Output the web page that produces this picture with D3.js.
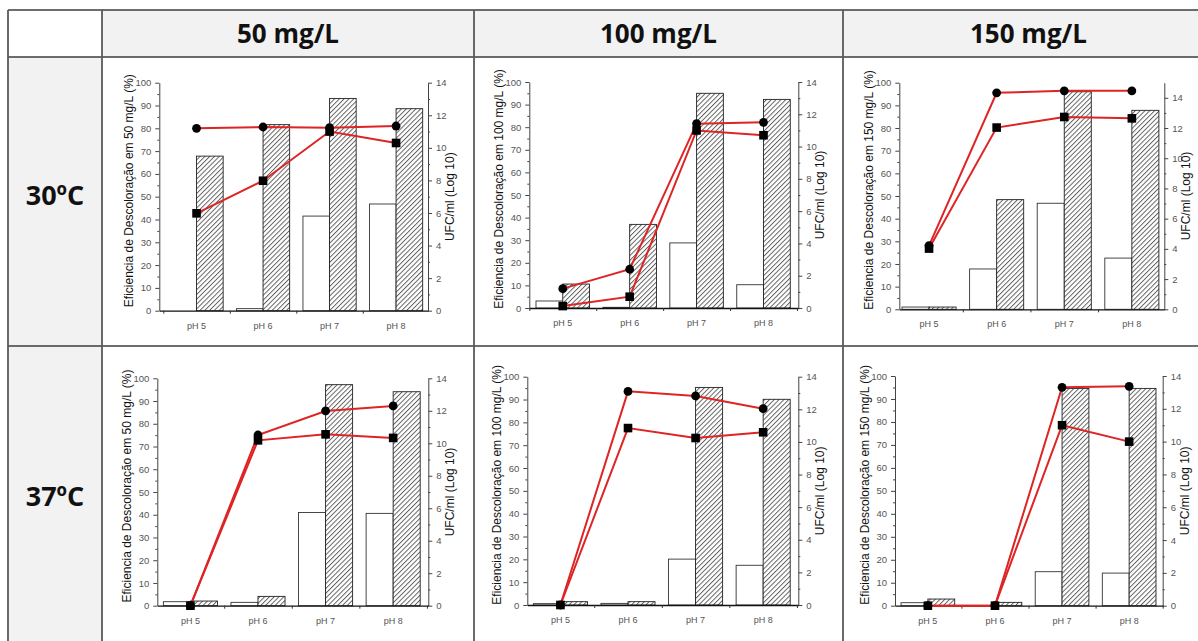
<!DOCTYPE html>
<html><head><meta charset="utf-8">
<script src="https://cdn.jsdelivr.net/npm/d3@7"></script>
<style>body{margin:0;background:#fff;} svg{display:block;}</style>
</head><body>
<svg id="c" width="1198" height="641"></svg>
<script>
// ---------- data ----------
const categories = ["pH 5","pH 6","pH 7","pH 8"];
const concentrations = ["50 mg/L","100 mg/L","150 mg/L"];
const temperatures = ["30ºC","37ºC"];
const leftTicks = [0,10,20,30,40,50,60,70,80,90,100];
const leftMinor = [5,15,25,35,45,55,65,75,85,95];
const rightTicks = [0,2,4,6,8,10,12,14];
const rightMinor = [1,3,5,7,9,11,13];
const rightMax30 = [14,14,15];
const rightMax37 = [14,14,14];
// each array: one entry per concentration column (50, 100, 150 mg/L), values per pH 5..8
const whiteBars30 = [[0,0.9,41.5,46.8],[3.1,0.3,28.8,10.3],[1.0,17.8,46.8,22.6]];
const hatchBars30 = [[67.8,81.6,93.1,88.6],[10.6,37.0,95.0,92.3],[1.0,48.4,96.0,87.8]];
const circles30   = [[11.2,11.28,11.24,11.34],[1.2,2.4,11.42,11.5],[4.21,14.33,14.46,14.46]];
const squares30   = [[5.98,7.98,11.0,10.3],[0.12,0.7,11.0,10.7],[4.02,12.03,12.73,12.64]];
const whiteBars37 = [[1.76,1.47,41.0,40.6],[0.6,0.7,20.1,17.4],[1.3,0,14.8,14.2]];
const hatchBars37 = [[2.05,4.1,97.2,94.1],[1.46,1.46,95.3,90.1],[2.9,1.45,94.6,94.6]];
const circles37   = [[0,10.51,11.99,12.3],[0,13.1,12.82,12.04],[0,0,13.31,13.37]];
const squares37   = [[0,10.18,10.55,10.33],[0,10.85,10.24,10.59],[0,0,11.0,10.0]];

// ---------- layout ----------
const colX = [8, 102, 474, 843, 1214];
const rowY = [10, 57, 346, 700];
// plot boxes: [left, right, top, bottom, domainStart, domainEnd]
const plotBoxes = [
  [[159.3,428,82.7,310.7,-0.56,3.48],[529.3,798.3,82,308,-0.5,3.52],[899.3,1164.3,82.7,309.3,-0.44,3.48]],
  [[157.3,428.3,378.3,605.7,-0.49,3.52],[527.3,798.3,376.7,605,-0.49,3.52],[895,1162.7,376,605.7,-0.49,3.5]]
];
const RED = "#de2424";
const TICK_FONT = "Liberation Sans, Arial, sans-serif";
const NUM_FONT = "Liberation Sans Narrow, Liberation Sans, Arial, sans-serif";
const HEAD_FONT = "Open Sans, sans-serif";

const svg = d3.select("#c");
const defs = svg.append("defs");
const pat = defs.append("pattern").attr("id","hatch").attr("patternUnits","userSpaceOnUse")
  .attr("width",3.4).attr("height",3.4).attr("patternTransform","rotate(45)");
pat.append("rect").attr("width",3.4).attr("height",3.4).attr("fill","#fff");
pat.append("line").attr("x1",0.5).attr("y1",0).attr("x2",0.5).attr("y2",3.4)
  .attr("stroke","#555").attr("stroke-width",0.9);

// backgrounds
svg.append("rect").attr("x",colX[1]).attr("y",rowY[0]).attr("width",1198-colX[1]).attr("height",rowY[1]-rowY[0]).attr("fill","#f2f2f2");
svg.append("rect").attr("x",colX[0]).attr("y",rowY[1]).attr("width",colX[1]-colX[0]).attr("height",641-rowY[1]).attr("fill","#f2f2f2");

// header texts
concentrations.forEach((c,i)=>{
  svg.append("text").attr("x",(colX[i+1]+colX[i+2])/2).attr("y",(rowY[0]+rowY[1])/2+9)
    .attr("text-anchor","middle").attr("font-family",HEAD_FONT).attr("font-weight","bold")
    .attr("font-size",26).attr("fill","#111").text(c);
});
temperatures.forEach((t,i)=>{
  svg.append("text").attr("x",(colX[0]+colX[1])/2).attr("y",[196,497][i]+9)
    .attr("text-anchor","middle").attr("font-family",HEAD_FONT).attr("font-weight","bold")
    .attr("font-size",27).attr("fill","#111").text(t);
});

function drawChart(box, white, hatch, circ, sq, rMax, conc) {
  const [L,R,T,B,d0,d1] = box;
  const g = svg.append("g");
  const x = d3.scaleLinear().domain([d0,d1]).range([L,R]);
  const yL = d3.scaleLinear().domain([0,100]).range([B,T]);
  const yR = d3.scaleLinear().domain([0,rMax]).range([B,T]);
  const step = x(1)-x(0);
  const bw = step*0.4;

  g.selectAll(".wb").data(white.map((v,i)=>({v,i})).filter(d=>d.v>0)).join("rect")
    .attr("x",d=>x(d.i)-bw).attr("y",d=>yL(d.v)).attr("width",bw).attr("height",d=>yL(0)-yL(d.v))
    .attr("fill","#fff").attr("stroke","#333").attr("stroke-width",0.9);
  g.selectAll(".hb").data(hatch.map((v,i)=>({v,i})).filter(d=>d.v>0)).join("rect")
    .attr("x",d=>x(d.i)).attr("y",d=>yL(d.v)).attr("width",bw).attr("height",d=>yL(0)-yL(d.v))
    .attr("fill","url(#hatch)").attr("stroke","#222").attr("stroke-width",0.9);

  // axes
  const gl = g.append("g").attr("transform",`translate(${L},0)`);
  gl.call(d3.axisLeft(yL).tickValues(leftTicks).tickSize(4).tickSizeOuter(0).tickPadding(4));
  gl.append("g").call(d3.axisLeft(yL).tickValues(leftMinor).tickSize(2).tickSizeOuter(0).tickFormat(""));
  const gr = g.append("g").attr("transform",`translate(${R},0)`);
  gr.call(d3.axisRight(yR).tickValues(rightTicks.filter(t=>t<=rMax)).tickSize(4).tickSizeOuter(0).tickPadding(4));
  gr.append("g").call(d3.axisRight(yR).tickValues(rightMinor.filter(t=>t<=rMax)).tickSize(2).tickSizeOuter(0).tickFormat(""));
  [gl,gr].forEach(a=>{
    a.selectAll("path.domain").attr("stroke","#444").attr("stroke-width",1);
    a.selectAll(".tick line").attr("stroke","#444");
    a.selectAll(".tick text").attr("font-family",NUM_FONT).attr("font-size",9.5).attr("fill","#555");
    a.selectAll("path.domain").filter(function(){return this.parentNode!==a.node();}).remove();
  });
  const mids = [-0.5,0.5,1.5,2.5,3.5].filter(v=>v>=d0 && v<=d1);
  const gb = g.append("g").attr("transform",`translate(0,${B})`);
  gb.call(d3.axisBottom(x).tickValues(mids).tickSize(3).tickSizeOuter(0).tickFormat(""));
  gb.select("path.domain").attr("stroke","#111").attr("stroke-width",1.3);
  gb.selectAll(".tick line").attr("stroke","#333");
  g.selectAll(".xl").data(categories).join("text")
    .attr("x",(d,i)=>x(i)).attr("y",B+18).attr("text-anchor","middle")
    .attr("font-family",TICK_FONT).attr("font-size",9).attr("fill","#555").text(d=>d);

  // lines
  const line = d3.line().x((d,i)=>x(i)).y(d=>yR(d));
  g.append("path").datum(sq).attr("d",line).attr("fill","none").attr("stroke",RED).attr("stroke-width",2);
  g.append("path").datum(circ).attr("d",line).attr("fill","none").attr("stroke",RED).attr("stroke-width",2);
  g.selectAll(".sq").data(sq).join("rect")
    .attr("x",(d,i)=>x(i)-4.3).attr("y",d=>yR(d)-4.3).attr("width",8.6).attr("height",8.6).attr("fill","#000");
  g.selectAll(".ci").data(circ).join("circle")
    .attr("cx",(d,i)=>x(i)).attr("cy",d=>yR(d)).attr("r",4.4).attr("fill","#000");

  // axis titles
  g.append("text").attr("transform",`translate(${L-26},${(T+B)/2-6}) rotate(-90)`)
    .attr("text-anchor","middle").attr("font-family",TICK_FONT).attr("font-size",12).attr("fill","#111")
    .text(`Eficiencia de Descoloração em ${conc} (%)`);
  g.append("text").attr("transform",`translate(${R+26},${(T+B)/2}) rotate(-90)`)
    .attr("text-anchor","middle").attr("font-family",TICK_FONT).attr("font-size",12).attr("fill","#111")
    .text("UFC/ml (Log 10)");
}

concentrations.forEach((c,j)=>{
  drawChart(plotBoxes[0][j], whiteBars30[j], hatchBars30[j], circles30[j], squares30[j], rightMax30[j], c);
  drawChart(plotBoxes[1][j], whiteBars37[j], hatchBars37[j], circles37[j], squares37[j], rightMax37[j], c);
});

// borders
const bord = svg.append("g");
rowY.slice(0,3).forEach(y=>{
  bord.append("line").attr("x1",colX[0]).attr("x2",1198).attr("y1",y).attr("y2",y)
    .attr("stroke","#3c3c3c").attr("stroke-width",1.6);
});
colX.slice(0,4).forEach(x=>{
  bord.append("line").attr("x1",x).attr("x2",x).attr("y1",rowY[0]).attr("y2",641)
    .attr("stroke","#5a5a5a").attr("stroke-width",1.8);
});
</script>
</body></html>
